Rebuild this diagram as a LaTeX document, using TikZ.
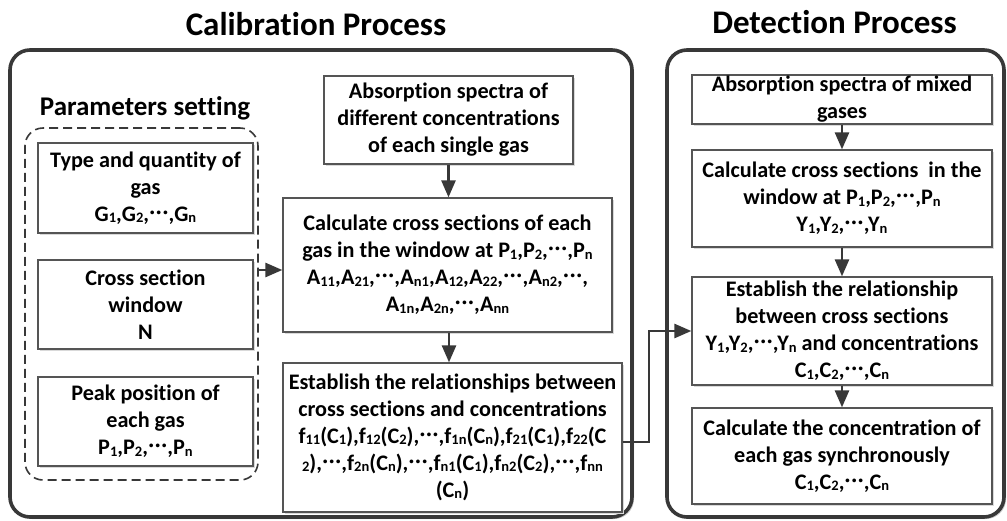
\documentclass[tikz,border=0pt]{standalone}
\usepackage{fontspec}
\setmainfont{Carlito}[Ligatures=NoCommon]
\usetikzlibrary{arrows.meta,shadows}
\definecolor{outerc}{HTML}{383838}
\definecolor{boxc}{HTML}{555555}
\newcommand\sbs[1]{\raisebox{-1.3pt}{\fontsize{14.5}{15}\selectfont #1}}
\newcommand\dts{\raisebox{3pt}{\fontsize{20}{20}\selectfont\kern0.5pt·\kern1.2pt·\kern1.2pt·\kern0.5pt}}
\begin{document}
\begin{tikzpicture}[x=1pt,y=-1pt,
  frame/.style={draw=outerc, line width=3.6pt, rounded corners=20pt, fill=white,
    inner sep=0pt, drop shadow={shadow xshift=2pt, shadow yshift=-2pt, fill=gray!40, opacity=1}},
  dashbox/.style={draw=outerc, line width=1.6pt, dash pattern=on 9pt off 5pt, rounded corners=18pt, inner sep=0pt},
  stepbox/.style={draw=boxc, line width=1.3pt, fill=white, inner sep=0pt, align=center,
    font=\fontsize{22.2}{27}\selectfont\bfseries,
    drop shadow={shadow xshift=1.5pt, shadow yshift=-1.5pt, fill=gray!30, opacity=1}},
  title/.style={font=\fontsize{33}{38}\selectfont\bfseries, anchor=base, inner sep=0pt},
  subtitle/.style={font=\fontsize{27}{31}\selectfont\bfseries, anchor=base, inner sep=0pt},
  arr/.style={draw=outerc, line width=2.6pt, -{Triangle[length=17pt,width=14pt]}}
]
\useasboundingbox (0,0) rectangle (1007,520);
% frames
\node[frame, minimum width=622pt, minimum height=467pt] (calframe) at (321,283.5) {};
\node[frame, minimum width=337pt, minimum height=467pt] (detframe) at (835.5,283.5) {};
% titles
\node[title] (caltitle) at (316,35) {Calibration Process};
\node[title] (dettitle) at (834.5,33) {Detection Process};
\node[subtitle] (partitle) at (145,115) {Parameters setting};
% parameters
\node[dashbox, minimum width=233pt, minimum height=352pt] (params) at (141.5,304) {};
\node[stepbox, minimum width=215pt, minimum height=90pt] (gas) at (145.5,188)
  {Type and quantity of\\gas\\G\sbs{1},G\sbs{2},\dts,G\sbs{n}};
\node[stepbox, minimum width=215pt, minimum height=89pt] (win) at (145.5,304.5)
  {Cross section\\window\\N};
\node[stepbox, minimum width=215pt, minimum height=89pt] (peak) at (145.5,421.5)
  {Peak position of\\each gas\\P\sbs{1},P\sbs{2},\dts,P\sbs{n}};
% calibration chain
\node[stepbox, minimum width=249pt, minimum height=88pt] (spec) at (448.5,120)
  {Absorption spectra of\\different concentrations\\of each single gas};
\node[stepbox, minimum width=329pt, minimum height=134pt] (calc) at (447.5,265)
  {Calculate cross sections of each\\gas in the window at P\sbs{1},P\sbs{2},\dts,P\sbs{n}\\
   A\sbs{11},A\sbs{21},\dts,A\sbs{n1},A\sbs{12},A\sbs{22},\dts,A\sbs{n2},\dts,\\
   A\sbs{1n},A\sbs{2n},\dts,A\sbs{nn}};
\node[stepbox, minimum width=339pt, minimum height=149pt] (est) at (452.5,437.5)
  {Establish the relationships between\\cross sections and concentrations\\
   f\sbs{11}(C\sbs{1}),f\sbs{12}(C\sbs{2}),\dts,f\sbs{1n}(C\sbs{n}),f\sbs{21}(C\sbs{1}),f\sbs{22}(C\\
   \sbs{2}),\dts,f\sbs{2n}(C\sbs{n}),\dts,f\sbs{n1}(C\sbs{1}),f\sbs{n2}(C\sbs{2}),\dts,f\sbs{nn}\\
   (C\sbs{n})};
% detection chain
\node[stepbox, minimum width=300pt, minimum height=49pt] (mix) at (842,99.5)
  {Absorption spectra of mixed\\gases};
\node[stepbox, minimum width=300pt, minimum height=97pt] (dcalc) at (842,198.5)
  {Calculate cross sections~ in the\\window at P\sbs{1},P\sbs{2},\dts,P\sbs{n}\\Y\sbs{1},Y\sbs{2},\dts,Y\sbs{n}};
\node[stepbox, minimum width=300pt, minimum height=108pt] (dest) at (842,331)
  {Establish the relationship\\between cross sections\\Y\sbs{1},Y\sbs{2},\dts,Y\sbs{n} and concentrations\\C\sbs{1},C\sbs{2},\dts,C\sbs{n}};
\node[stepbox, minimum width=300pt, minimum height=96pt] (conc) at (842,456)
  {Calculate the concentration of\\each gas synchronously\\C\sbs{1},C\sbs{2},\dts,C\sbs{n}};
% connectors
\coordinate (cin) at ([yshift=-5pt]calc.west);
\coordinate (eout) at ([yshift=-4.5pt]est.east);
\coordinate (cdown) at ([xshift=1.5pt]calc.south);
\draw[arr] (params.east |- cin) -- (cin);
\draw[arr] (spec.south) -- (spec.south |- calc.north);
\draw[arr] (cdown) -- (cdown |- est.north);
\draw[arr] (eout) -- ++(26.5,0) |- (dest.west);
\draw[arr] (mix.south) -- (dcalc.north);
\draw[arr] (dcalc.south) -- (dest.north);
\draw[arr] (dest.south) -- (conc.north);
\end{tikzpicture}
\end{document}
